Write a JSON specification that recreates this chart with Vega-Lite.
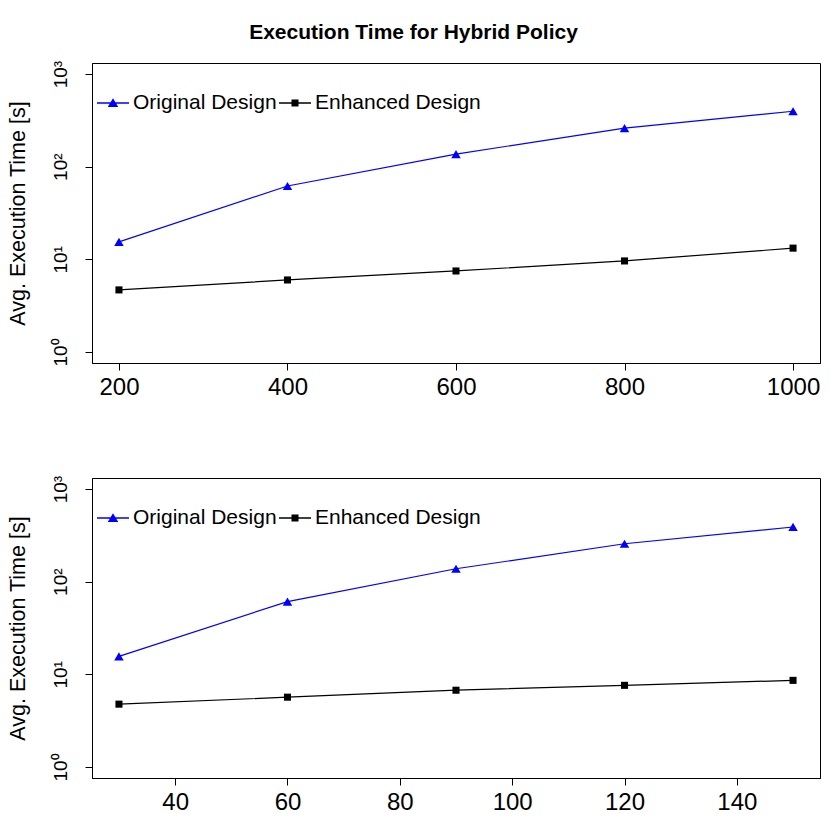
{
  "$schema": "https://vega.github.io/schema/vega-lite/v6.json",
  "padding": {"left": 6, "top": 21, "right": 0, "bottom": 0},
  "background": "white",
  "title": {"text": "Execution Time for Hybrid Policy", "anchor": "middle", "fontSize": 21, "font": "Liberation Sans", "fontWeight": "bold", "color": "black", "offset": 17},
  "spacing": 115,
  "bounds": "flush",
  "config": {
    "view": {"stroke": "black", "strokeWidth": 1},
    "font": "Liberation Sans",
    "axis": {"grid": false, "domainColor": "black", "tickColor": "black", "labelColor": "black", "titleColor": "black", "tickSize": 7, "labelFont": "Liberation Sans", "titleFont": "Liberation Sans"}
  },
  "datasets": {
    "top": [
      {"n": 200, "t": 15.4, "series": "Original Design"},
      {"n": 400, "t": 61.9, "series": "Original Design"},
      {"n": 600, "t": 137, "series": "Original Design"},
      {"n": 800, "t": 261, "series": "Original Design"},
      {"n": 1000, "t": 397, "series": "Original Design"},
      {"n": 200, "t": 4.67, "series": "Enhanced Design"},
      {"n": 400, "t": 5.98, "series": "Enhanced Design"},
      {"n": 600, "t": 7.48, "series": "Enhanced Design"},
      {"n": 800, "t": 9.6, "series": "Enhanced Design"},
      {"n": 1000, "t": 13.2, "series": "Enhanced Design"}
    ],
    "bottom": [
      {"n": 30, "t": 15.6, "series": "Original Design"},
      {"n": 60, "t": 61, "series": "Original Design"},
      {"n": 90, "t": 138, "series": "Original Design"},
      {"n": 120, "t": 257, "series": "Original Design"},
      {"n": 150, "t": 390, "series": "Original Design"},
      {"n": 30, "t": 4.76, "series": "Enhanced Design"},
      {"n": 60, "t": 5.66, "series": "Enhanced Design"},
      {"n": 90, "t": 6.73, "series": "Enhanced Design"},
      {"n": 120, "t": 7.6, "series": "Enhanced Design"},
      {"n": 150, "t": 8.6, "series": "Enhanced Design"}
    ]
  },
  "vconcat": [
    {
      "width": 728,
      "height": 300,
      "data": {"name": "top"},
      "encoding": {
        "x": {"field": "n", "type": "quantitative", "scale": {"domain": [168, 1032], "nice": false, "zero": false},
              "axis": {"title": null, "values": [200, 400, 600, 800, 1000], "format": "d", "labelFontSize": 24, "labelPadding": 5, "labelFlush": false}},
        "y": {"field": "t", "type": "quantitative", "scale": {"type": "log", "domain": [0.7586, 1318.3], "nice": false},
              "axis": {"title": "Avg. Execution Time [s]", "titleFontSize": 21.5, "titleFontWeight": "normal", "titleX": -74, "titleY": 150, "titleAngle": -90, "titleAlign": "center", "titleBaseline": "middle",
                       "values": [1, 10, 100, 1000], "labelAngle": -90, "labelFontSize": 19, "labelPadding": 15, "labelAlign": "center", "labelBaseline": "bottom", "labelFlush": false,
                       "labelExpr": "'10' + (datum.value == 1 ? '⁰' : datum.value == 10 ? '¹' : datum.value == 100 ? '²' : '³')"}}
      },
      "layer": [
        {"mark": {"type": "line", "strokeWidth": 1.2},
         "encoding": {
          "color": {"field": "series", "type": "nominal", "scale": {"domain": ["Original Design", "Enhanced Design"], "range": ["#0000ff", "#000000"]},
                  "legend": {"title": null, "orient": "none", "legendX": 5, "legendY": 24, "direction": "horizontal", "padding": 0, "labelFontSize": 21, "labelFont": "Liberation Sans", "labelColor": "black", "labelLimit": 0, "symbolSize": 1024, "labelOffset": 4, "columnPadding": 2, "symbolStrokeWidth": 0,
                             "encoding": {"symbols": {
                               "shape": {"value": {"expr": "datum.value === 'Original Design' ? 'M-1,-0.04H1V0.04H-1ZM0,-0.3L0.33,0.25L-0.33,0.25Z' : 'M-1,-0.04H1V0.04H-1ZM-0.22,-0.22H0.22V0.22H-0.22Z'"}},
                               "fill": {"value": {"expr": "datum.value === 'Original Design' ? '#0000ff' : '#000000'"}},
                               "fillOpacity": {"value": 1},
                               "size": {"value": 1024},
                               "strokeWidth": {"value": 0}}}}}
         }},
        {"mark": {"type": "point", "filled": true, "opacity": 1},
         "encoding": {
           "fill": {"field": "series", "type": "nominal", "scale": {"range": ["#000000", "#0000ff"]}, "legend": null},
           "shape": {"field": "series", "type": "nominal", "scale": {"range": ["square", "triangle-up"]}, "legend": null},
           "size": {"field": "series", "type": "nominal", "scale": {"range": [50, 90]}, "legend": null}
         }}
      ]
    },
    {
      "width": 728,
      "height": 300,
      "data": {"name": "bottom"},
      "encoding": {
        "x": {"field": "n", "type": "quantitative", "scale": {"domain": [25.2, 154.8], "nice": false, "zero": false},
              "axis": {"title": null, "values": [40, 60, 80, 100, 120, 140], "format": "d", "labelFontSize": 24, "labelPadding": 5, "labelFlush": false}},
        "y": {"field": "t", "type": "quantitative", "scale": {"type": "log", "domain": [0.7586, 1318.3], "nice": false},
              "axis": {"title": "Avg. Execution Time [s]", "titleFontSize": 21.5, "titleFontWeight": "normal", "titleX": -74, "titleY": 150, "titleAngle": -90, "titleAlign": "center", "titleBaseline": "middle",
                       "values": [1, 10, 100, 1000], "labelAngle": -90, "labelFontSize": 19, "labelPadding": 15, "labelAlign": "center", "labelBaseline": "bottom", "labelFlush": false,
                       "labelExpr": "'10' + (datum.value == 1 ? '⁰' : datum.value == 10 ? '¹' : datum.value == 100 ? '²' : '³')"}}
      },
      "layer": [
        {"mark": {"type": "line", "strokeWidth": 1.2},
         "encoding": {
          "color": {"field": "series", "type": "nominal", "scale": {"domain": ["Original Design", "Enhanced Design"], "range": ["#0000ff", "#000000"]},
                  "legend": {"title": null, "orient": "none", "legendX": 5, "legendY": 24, "direction": "horizontal", "padding": 0, "labelFontSize": 21, "labelFont": "Liberation Sans", "labelColor": "black", "labelLimit": 0, "symbolSize": 1024, "labelOffset": 4, "columnPadding": 2, "symbolStrokeWidth": 0,
                             "encoding": {"symbols": {
                               "shape": {"value": {"expr": "datum.value === 'Original Design' ? 'M-1,-0.04H1V0.04H-1ZM0,-0.3L0.33,0.25L-0.33,0.25Z' : 'M-1,-0.04H1V0.04H-1ZM-0.22,-0.22H0.22V0.22H-0.22Z'"}},
                               "fill": {"value": {"expr": "datum.value === 'Original Design' ? '#0000ff' : '#000000'"}},
                               "fillOpacity": {"value": 1},
                               "size": {"value": 1024},
                               "strokeWidth": {"value": 0}}}}}
         }},
        {"mark": {"type": "point", "filled": true, "opacity": 1},
         "encoding": {
           "fill": {"field": "series", "type": "nominal", "scale": {"range": ["#000000", "#0000ff"]}, "legend": null},
           "shape": {"field": "series", "type": "nominal", "scale": {"range": ["square", "triangle-up"]}, "legend": null},
           "size": {"field": "series", "type": "nominal", "scale": {"range": [50, 90]}, "legend": null}
         }}
      ]
    }
  ],
  "resolve": {"scale": {"color": "independent", "fill": "independent", "shape": "independent", "size": "independent"}, "legend": {"color": "independent"}}
}
